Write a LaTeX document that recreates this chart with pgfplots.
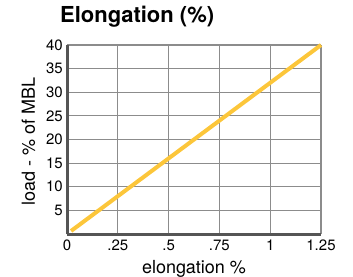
\documentclass[border=0pt]{standalone}
\usepackage{fontspec}
\setmainfont{TeX Gyre Heros}
\usepackage{pgfplots}
\pgfplotsset{compat=1.18}
\definecolor{lineY}{HTML}{FCC63A}
\definecolor{gridG}{HTML}{8C8C8C}
\definecolor{axisG}{HTML}{555555}
\begin{document}
\begin{tikzpicture}
\path[use as bounding box] (0,0) rectangle (353pt,276pt);
\begin{axis}[
  at={(67pt,42pt)}, anchor=south west,
  scale only axis, width=254pt, height=189pt,
  xmin=0, xmax=1.25, ymin=0, ymax=40,
  xtick={0,0.25,0.5,0.75,1,1.25},
  xticklabels={0,.25,.5,.75,1,1.25},
  ytick={5,10,15,20,25,30,35,40},
  grid=major,
  major grid style={gridG, line width=1.1pt},
  axis x line=bottom, axis y line=left,
  axis line style={-, axisG, line width=3pt},
  major tick length=0pt,
  /pgf/number format/assume math mode=true,
  tick label style={font=\fontsize{15}{18}\selectfont, inner sep=0pt},
  xticklabel style={anchor=north, yshift=-6pt},
  yticklabel style={anchor=east, xshift=-4pt},
  xlabel={elongation \%},
  ylabel={load - \% of MBL},
  xlabel style={font=\fontsize{18}{21}\selectfont, at={(axis description cs:0.5,0)}, anchor=base, yshift=-39pt, inner sep=0pt},
  ylabel style={font=\fontsize{18}{21}\selectfont, at={(axis description cs:0,0.487)}, anchor=base, yshift=32pt, inner sep=0pt},
  title={Elongation (\%)},
  title style={font=\fontsize{22}{26}\selectfont\bfseries, at={(axis description cs:-0.028,1)}, anchor=base west, yshift=17pt, inner sep=0pt},
  clip=false,
]
\addplot[lineY, line width=4pt] coordinates {(0.02,0.64) (1.25,40)};
\end{axis}
\end{tikzpicture}
\end{document}
